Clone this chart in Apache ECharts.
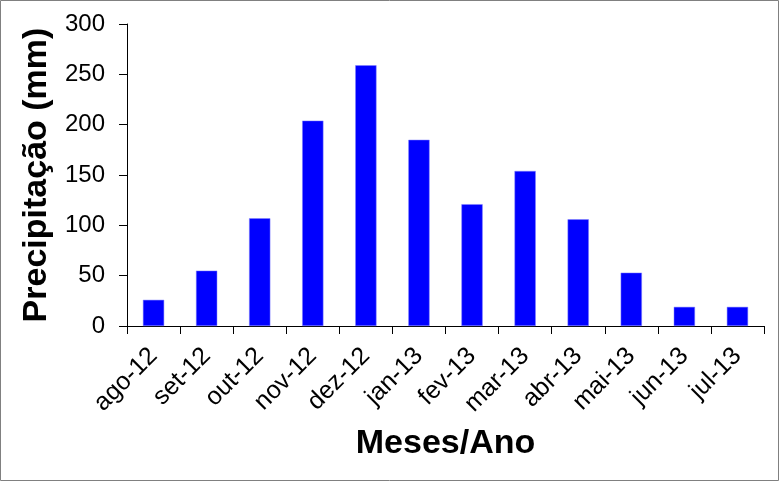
<!DOCTYPE html>
<html>
<head>
<meta charset="UTF-8">
<title>Precipitação</title>
<script src="https://cdn.jsdelivr.net/npm/echarts@6/dist/echarts.min.js"></script>
<style>
	html, body { margin: 0; padding: 0; background: #fff; }
	#chart { width: 780px; height: 482px; }
</style>
</head>
<body>
<div id="chart"></div>
<script>
var meses = ['ago-12', 'set-12', 'out-12', 'nov-12', 'dez-12', 'jan-13', 'fev-13', 'mar-13', 'abr-13', 'mai-13', 'jun-13', 'jul-13'];
var precipitacao = [26, 55, 107, 204, 259, 185, 121, 154, 106, 53, 19, 19];
var yTicks = [0, 50, 100, 150, 200, 250, 300];

var chart = echarts.init(document.getElementById('chart'));

var option = {
	animation: false,
	textStyle: { fontFamily: 'Liberation Sans, Arial, sans-serif' },
	graphic: [{
		type: 'rect',
		shape: { x: 0.5, y: 0.5, width: 778, height: 480 },
		style: { fill: 'none', stroke: '#808080', lineWidth: 1 },
		silent: true
	}],
	grid: { left: 127, top: 24, right: 16, bottom: 156 },
	xAxis: {
		type: 'category',
		data: meses,
		name: 'Meses/Ano',
		nameLocation: 'middle',
		nameGap: 101,
		nameTextStyle: { color: '#000', fontSize: 34, fontWeight: 'bold' },
		axisLine: { lineStyle: { color: '#000', width: 1 } },
		axisTick: { show: true, length: 8, lineStyle: { color: '#000' } },
		axisLabel: { interval: 0, rotate: 45, color: '#000', fontSize: 25, margin: 26 }
	},
	yAxis: {
		type: 'value',
		min: yTicks[0],
		max: yTicks[yTicks.length - 1],
		interval: 50,
		name: 'Precipitação (mm)',
		nameLocation: 'middle',
		nameGap: 72,
		nameTextStyle: { color: '#000', fontSize: 34, fontWeight: 'bold' },
		axisLine: { show: true, lineStyle: { color: '#000', width: 1 } },
		axisTick: { show: true, length: 8, lineStyle: { color: '#000' } },
		axisLabel: { color: '#000', fontSize: 24, margin: 22 },
		splitLine: { show: false }
	},
	series: [{
		type: 'bar',
		data: precipitacao,
		barWidth: '40%',
		itemStyle: { color: '#0000ff', borderColor: '#8080ff', borderWidth: 0.5 }
	}]
};
chart.setOption(option);
</script>
</body>
</html>
